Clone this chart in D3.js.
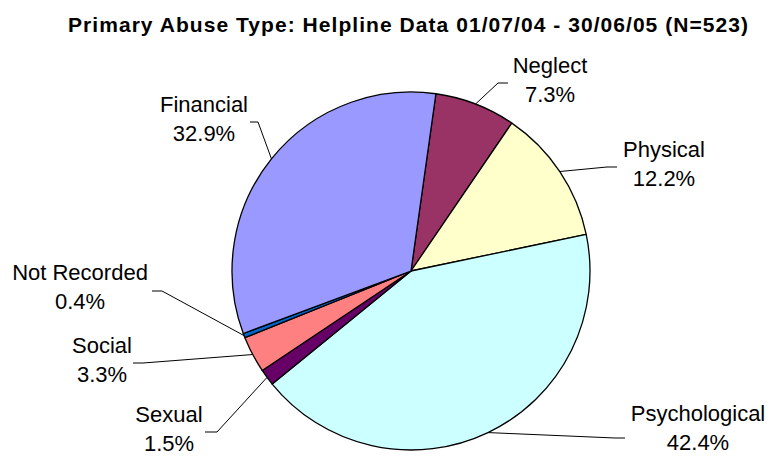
<!DOCTYPE html>
<html>
<head>
<meta charset="utf-8">
<script src="https://cdn.jsdelivr.net/npm/d3@7"></script>
<style>
  body { margin: 0; background: #fff; }
  text { font-family: "Liberation Sans", Arial, sans-serif; fill: #000; }
</style>
</head>
<body>
<div class="chart"></div>
<script>
// data (percent of N=523)
var categories = ["Neglect", "Physical", "Psychological", "Sexual", "Social", "Not Recorded", "Financial"];
var percents = [7.3, 12.2, 42.4, 1.5, 3.3, 0.4, 32.9];
var colours = ["#993366", "#FFFFCC", "#CCFFFF", "#660066", "#FF8080", "#0066CC", "#9999FF"];
var title = "Primary Abuse Type: Helpline Data 01/07/04 - 30/06/05 (N=523)";

var width = 768, height = 457;
var cx = 411, cy = 271, radius = 179;
var startDeg = 8;

// where each label sits (text centre/baseline, leader elbow, leader end)
var labelLayout = {
  "Financial":     {tx: 204, ty: 112, ex: 258, ey: 122, ax: 250},
  "Neglect":       {tx: 550, ty: 73,  ex: 498, ey: 83,  ax: 508},
  "Physical":      {tx: 664, ty: 157, ex: 607, ey: 167, ax: 617},
  "Psychological": {tx: 698, ty: 421, ex: 615, ey: 438, ax: 625},
  "Not Recorded":  {tx: 80,  ty: 280, ex: 162, ey: 291, ax: 152},
  "Social":        {tx: 102, ty: 353, ex: 143, ey: 363, ax: 133},
  "Sexual":        {tx: 169, ty: 422, ex: 217, ey: 432, ax: 205}
};

var data = categories.map(function(c, i) {
  return {name: c, value: percents[i], colour: colours[i]};
});

var svg = d3.select(".chart").append("svg")
  .attr("width", width)
  .attr("height", height);

svg.append("text")
  .attr("x", 408)
  .attr("y", 32)
  .attr("text-anchor", "middle")
  .attr("font-size", "21px")
  .attr("font-weight", "bold")
  .attr("textLength", 680)
  .attr("lengthAdjust", "spacing")
  .text(title);

var rad = Math.PI / 180;
var pie = d3.pie()
  .sort(null)
  .value(function(d) { return d.value; })
  .startAngle(startDeg * rad)
  .endAngle((startDeg + 360) * rad);

var arc = d3.arc().innerRadius(0).outerRadius(radius);
var edge = d3.arc().innerRadius(radius).outerRadius(radius);

var g = svg.append("g")
  .attr("transform", "translate(" + cx + "," + cy + ")");

var arcs = pie(data);

g.selectAll("path.slice")
  .data(arcs)
  .enter().append("path")
  .attr("class", "slice")
  .attr("d", arc)
  .attr("fill", function(d) { return d.data.colour; })
  .attr("stroke", "#000")
  .attr("stroke-width", 1.3)
  .attr("stroke-linejoin", "round");

// leader lines
var line = d3.line();
svg.selectAll("path.leader")
  .data(arcs)
  .enter().append("path")
  .attr("class", "leader")
  .attr("fill", "none")
  .attr("stroke", "#000")
  .attr("stroke-width", 1)
  .attr("d", function(d) {
    var p = edge.centroid(d);
    var l = labelLayout[d.data.name];
    return line([[cx + p[0], cy + p[1]], [l.ex, l.ey], [l.ax, l.ey]]);
  });

// labels
var labels = svg.selectAll("text.lbl")
  .data(arcs)
  .enter().append("text")
  .attr("class", "lbl")
  .attr("text-anchor", "middle")
  .attr("font-size", "22px");

labels.append("tspan")
  .attr("x", function(d) { return labelLayout[d.data.name].tx; })
  .attr("y", function(d) { return labelLayout[d.data.name].ty; })
  .text(function(d) { return d.data.name; });

labels.append("tspan")
  .attr("x", function(d) { return labelLayout[d.data.name].tx; })
  .attr("y", function(d) { return labelLayout[d.data.name].ty + 29; })
  .text(function(d) { return d.data.value.toFixed(1) + "%"; });
</script>
</body>
</html>
